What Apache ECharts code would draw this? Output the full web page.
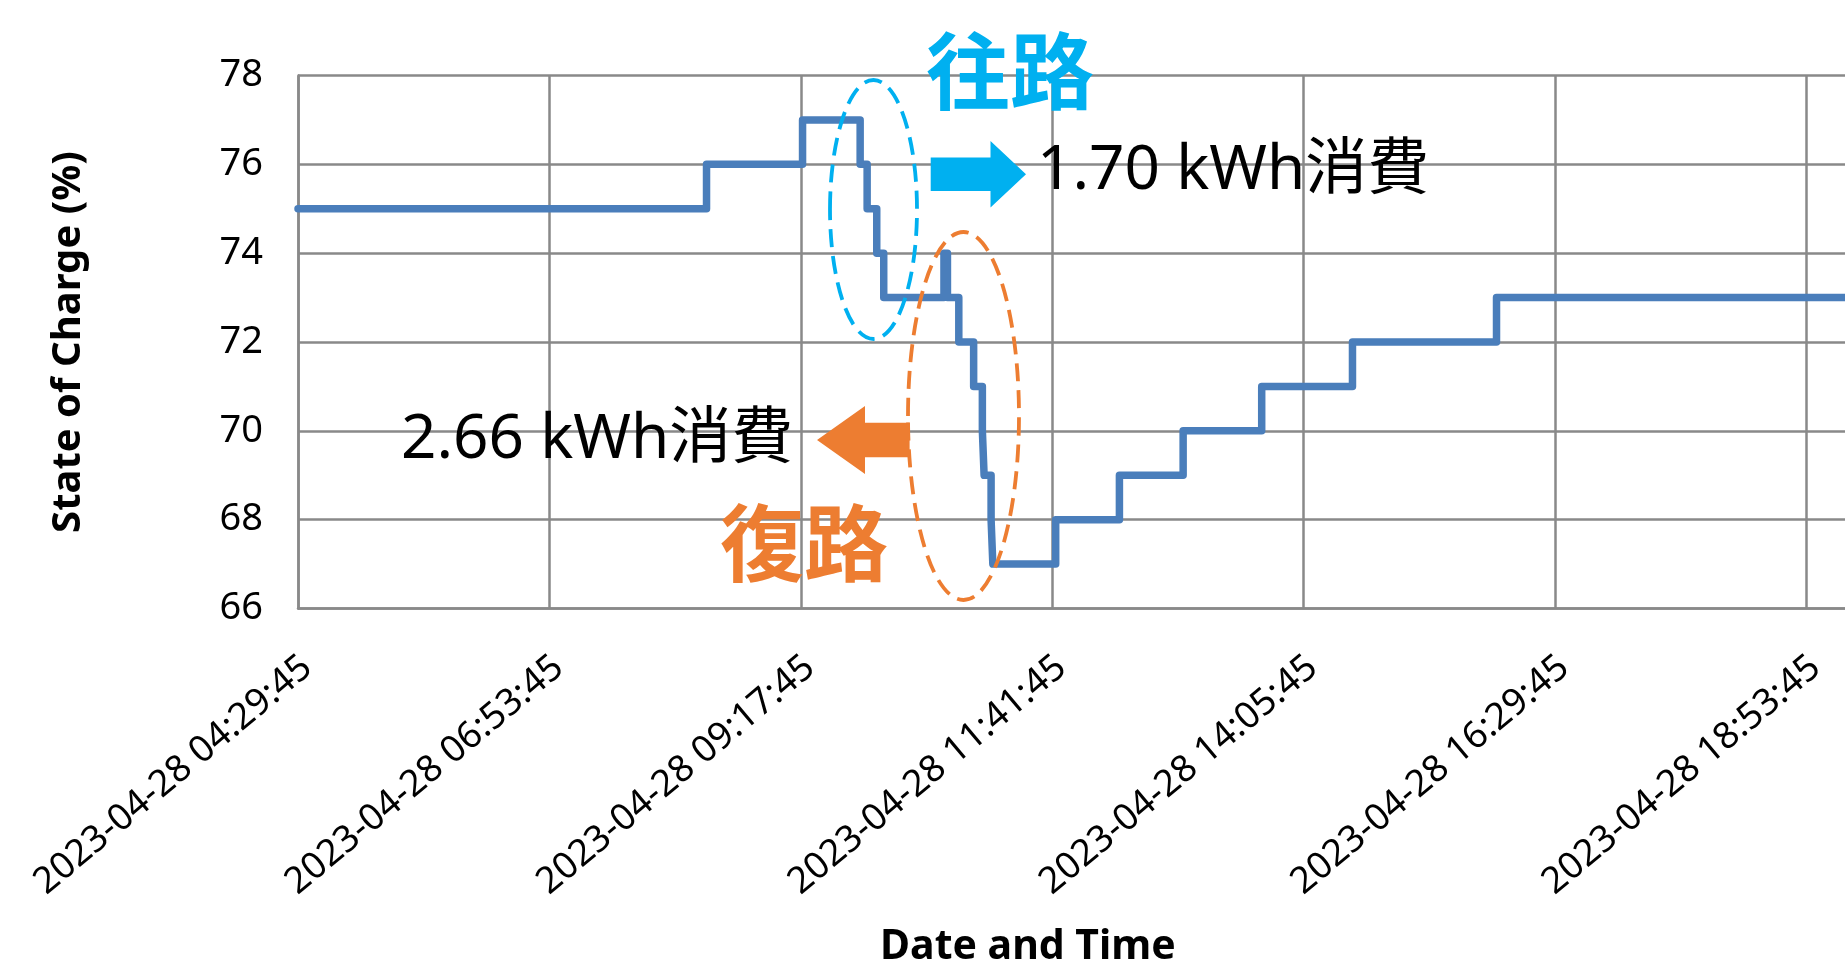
<!DOCTYPE html>
<html>
<head>
<meta charset="utf-8">
<script src="https://cdn.jsdelivr.net/npm/echarts@6/dist/echarts.min.js"></script>
<style>
  html, body { margin: 0; padding: 0; background: #ffffff; }
  #chart { width: 1845px; height: 973px; }
</style>
</head>
<body>
<div id="chart"></div>
<script>
// ---- data ----
const xTickLabels = [
  '2023-04-28 04:29:45', '2023-04-28 06:53:45', '2023-04-28 09:17:45',
  '2023-04-28 11:41:45', '2023-04-28 14:05:45', '2023-04-28 16:29:45',
  '2023-04-28 18:53:45'
];
const socTimes = [
  '2023-04-28 04:29:45', '2023-04-28 08:23:45', '2023-04-28 09:18:45',
  '2023-04-28 09:51:45', '2023-04-28 09:55:45', '2023-04-28 10:01:15',
  '2023-04-28 10:05:15', '2023-04-28 10:39:45', '2023-04-28 10:41:45',
  '2023-04-28 10:48:15', '2023-04-28 10:56:45', '2023-04-28 11:01:45',
  '2023-04-28 11:02:45', '2023-04-28 11:06:45', '2023-04-28 11:07:45',
  '2023-04-28 11:43:45', '2023-04-28 12:20:15', '2023-04-28 12:56:45',
  '2023-04-28 13:41:45', '2023-04-28 14:33:45', '2023-04-28 15:56:15',
  '2023-04-28 19:30:45'
];
const socValues = [
  75, 76, 77,
  76, 75, 74,
  73, 74, 73,
  72, 71, 70,
  69, 68, 67,
  68, 69, 70,
  71, 72, 73,
  73
];
const yMin = 66, yMax = 78, yStep = 2;
const annoOutbound = '1.70 kWh消費';
const annoReturn = '2.66 kWh消費';
const labelOutbound = '往路';
const labelReturn = '復路';

// ---- helpers ----
function clockMinutes(s) {
  const t = s.split(' ')[1].split(':').map(Number);
  return t[0] * 60 + t[1] + t[2] / 60;
}
const startMin = clockMinutes(xTickLabels[0]);
const tickStep = clockMinutes(xTickLabels[1]) - startMin; // 144 min
const toOffset = s => clockMinutes(s) - startMin;
const seriesData = socTimes.map((t, i) => [toOffset(t), socValues[i]]);

const BLUE = '#00B0F0', ORANGE = '#ED7D31', LINE = '#4A7EBB', GRID = '#898989';
const latin = '"Noto Sans", "Noto Sans CJK JP", sans-serif';

const chart = echarts.init(document.getElementById('chart'), null, { renderer: 'canvas' });
chart.setOption({
  backgroundColor: '#ffffff',
  animation: false,
  grid: {
    left: 298, top: 75.5, bottom: 973 - 608.5,
    right: 1845 - 298 - 7 * 251.4,
    outerBoundsMode: 'none',
    containLabel: false
  },
  xAxis: {
    type: 'value',
    min: 0,
    max: tickStep * 7,
    interval: tickStep,
    name: 'Date and Time',
    nameLocation: 'middle',
    nameGap: 318,
    nameTextStyle: {
      fontSize: 41, fontWeight: 'bold', color: '#000', fontFamily: latin,
      padding: [0, 300, 0, 0]
    },
    axisLine: { show: true, lineStyle: { color: GRID, width: 2.5 } },
    axisTick: { show: false },
    splitLine: { show: true, lineStyle: { color: GRID, width: 2.5 } },
    axisLabel: {
      rotate: 40,
      margin: 62,
      fontSize: 37,
      color: '#000',
      fontFamily: latin,
      showMaxLabel: false,
      padding: [0, -12, 0, 0],
      formatter: v => {
        const i = Math.round(v / tickStep);
        return (Math.abs(v - i * tickStep) < 1e-6 && i < xTickLabels.length) ? xTickLabels[i] : '';
      }
    }
  },
  yAxis: {
    type: 'value',
    min: yMin, max: yMax, interval: yStep,
    name: 'State of Charge (%)',
    nameLocation: 'middle',
    nameRotate: 90,
    nameGap: 209,
    nameTextStyle: { fontSize: 40, fontWeight: 'bold', color: '#000', fontFamily: latin },
    axisLine: { show: true, lineStyle: { color: GRID, width: 2.5 } },
    axisTick: { show: false },
    splitLine: { show: true, lineStyle: { color: GRID, width: 2.5 } },
    axisLabel: { fontSize: 38, color: '#000', margin: 35, fontFamily: latin }
  },
  series: [{
    type: 'line',
    step: 'end',
    data: seriesData,
    showSymbol: false,
    symbol: 'none',
    lineStyle: { color: LINE, width: 7.5, cap: 'round', join: 'round' },
    z: 5
  }],
  graphic: [
    { type: 'ellipse', z: 100, shape: { cx: 873.5, cy: 209.5, rx: 43.5, ry: 129.5 },
      style: { fill: 'none', stroke: BLUE, lineWidth: 3.8, lineDash: [18, 9] } },
    { type: 'ellipse', z: 100, shape: { cx: 963.5, cy: 416, rx: 55.5, ry: 184 },
      style: { fill: 'none', stroke: ORANGE, lineWidth: 3.8, lineDash: [18, 9] } },
    { type: 'polygon', z: 100,
      shape: { points: [[930.7,157.5],[990.5,157.5],[990.5,141],[1026,174.3],[990.5,207.5],[990.5,191],[930.7,191]] },
      style: { fill: BLUE } },
    { type: 'polygon', z: 100,
      shape: { points: [[909.6,422.8],[865,422.8],[865,406],[817,440],[865,474],[865,457.2],[909.6,457.2]] },
      style: { fill: ORANGE } },
    { type: 'text', z: 100, x: 1037, y: 171,
      style: { text: annoOutbound, fill: '#000', fontSize: 62, fontFamily: latin,
               align: 'left', verticalAlign: 'middle', textAlign: 'left', textVerticalAlign: 'middle' } },
    { type: 'text', z: 100, x: 401, y: 440,
      style: { text: annoReturn, fill: '#000', fontSize: 62, fontFamily: latin,
               align: 'left', verticalAlign: 'middle', textAlign: 'left', textVerticalAlign: 'middle' } },
    { type: 'text', z: 100, x: 1010, y: 71,
      style: { text: labelOutbound, fill: BLUE, fontSize: 84, fontWeight: 'bold', fontFamily: '"Noto Sans CJK JP", sans-serif',
               align: 'center', verticalAlign: 'middle', textAlign: 'center', textVerticalAlign: 'middle' } },
    { type: 'text', z: 100, x: 804, y: 543,
      style: { text: labelReturn, fill: ORANGE, fontSize: 84, fontWeight: 'bold', fontFamily: '"Noto Sans CJK JP", sans-serif',
               align: 'center', verticalAlign: 'middle', textAlign: 'center', textVerticalAlign: 'middle' } }
  ]
});
</script>
</body>
</html>
